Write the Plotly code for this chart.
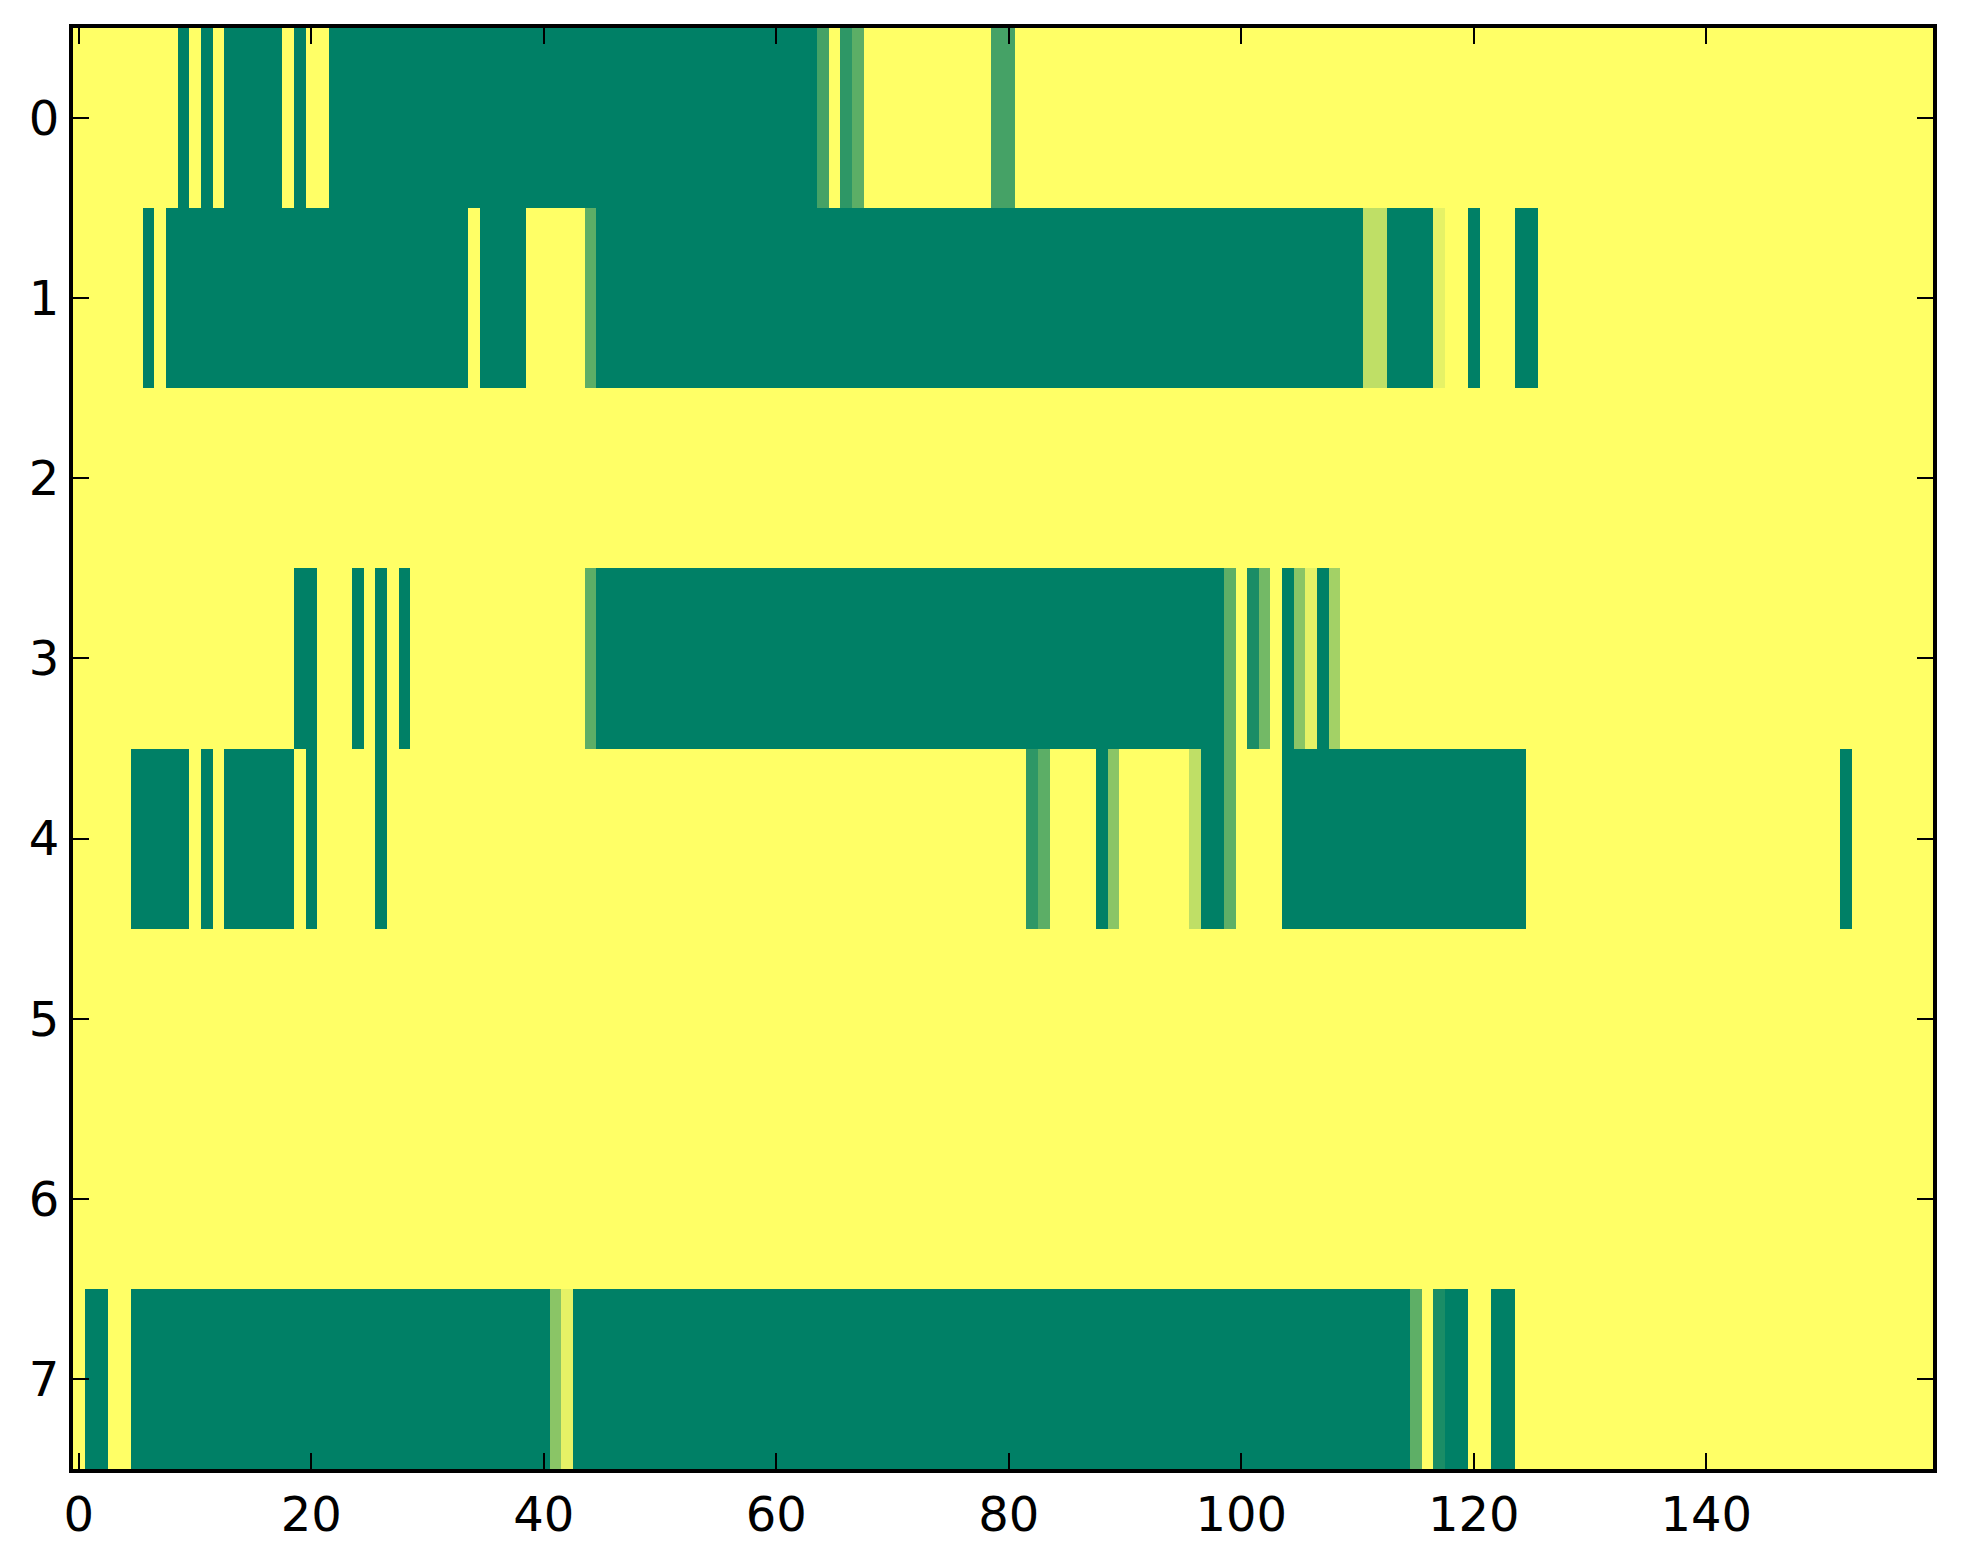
import plotly.graph_objects as go

# Column indices (0..159) and row indices (0..7)
columns = list(range(160))
row_labels = [0, 1, 2, 3, 4, 5, 6, 7]

# Values per row (0 = green end, 1 = yellow end of the "summer" map)
row0 = [1, 1, 1, 1, 1, 1, 1, 1, 1, 0, 1, 0, 1, 0, 0, 0, 0, 0, 1, 0,
        1, 1, 0, 0, 0, 0, 0, 0, 0, 0, 0, 0, 0, 0, 0, 0, 0, 0, 0, 0,
        0, 0, 0, 0, 0, 0, 0, 0, 0, 0, 0, 0, 0, 0, 0, 0, 0, 0, 0, 0,
        0, 0, 0, 0, 0.27, 1, 0.18, 0.36, 1, 1, 1, 1, 1, 1, 1, 1, 1, 1, 1, 0.27,
        0.27, 1, 1, 1, 1, 1, 1, 1, 1, 1, 1, 1, 1, 1, 1, 1, 1, 1, 1, 1,
        1, 1, 1, 1, 1, 1, 1, 1, 1, 1, 1, 1, 1, 1, 1, 1, 1, 1, 1, 1,
        1, 1, 1, 1, 1, 1, 1, 1, 1, 1, 1, 1, 1, 1, 1, 1, 1, 1, 1, 1,
        1, 1, 1, 1, 1, 1, 1, 1, 1, 1, 1, 1, 1, 1, 1, 1, 1, 1, 1, 1]

row1 = [1, 1, 1, 1, 1, 1, 0, 1, 0, 0, 0, 0, 0, 0, 0, 0, 0, 0, 0, 0,
        0, 0, 0, 0, 0, 0, 0, 0, 0, 0, 0, 0, 0, 0, 1, 0, 0, 0, 0, 1,
        1, 1, 1, 1, 0.36, 0, 0, 0, 0, 0, 0, 0, 0, 0, 0, 0, 0, 0, 0, 0,
        0, 0, 0, 0, 0, 0, 0, 0, 0, 0, 0, 0, 0, 0, 0, 0, 0, 0, 0, 0,
        0, 0, 0, 0, 0, 0, 0, 0, 0, 0, 0, 0, 0, 0, 0, 0, 0, 0, 0, 0,
        0, 0, 0, 0, 0, 0, 0, 0, 0, 0, 0, 0.75, 0.75, 0, 0, 0, 0, 0.9, 1, 1,
        0, 1, 1, 1, 0, 0, 1, 1, 1, 1, 1, 1, 1, 1, 1, 1, 1, 1, 1, 1,
        1, 1, 1, 1, 1, 1, 1, 1, 1, 1, 1, 1, 1, 1, 1, 1, 1, 1, 1, 1]

row2 = [1, 1, 1, 1, 1, 1, 1, 1, 1, 1, 1, 1, 1, 1, 1, 1, 1, 1, 1, 1,
        1, 1, 1, 1, 1, 1, 1, 1, 1, 1, 1, 1, 1, 1, 1, 1, 1, 1, 1, 1,
        1, 1, 1, 1, 1, 1, 1, 1, 1, 1, 1, 1, 1, 1, 1, 1, 1, 1, 1, 1,
        1, 1, 1, 1, 1, 1, 1, 1, 1, 1, 1, 1, 1, 1, 1, 1, 1, 1, 1, 1,
        1, 1, 1, 1, 1, 1, 1, 1, 1, 1, 1, 1, 1, 1, 1, 1, 1, 1, 1, 1,
        1, 1, 1, 1, 1, 1, 1, 1, 1, 1, 1, 1, 1, 1, 1, 1, 1, 1, 1, 1,
        1, 1, 1, 1, 1, 1, 1, 1, 1, 1, 1, 1, 1, 1, 1, 1, 1, 1, 1, 1,
        1, 1, 1, 1, 1, 1, 1, 1, 1, 1, 1, 1, 1, 1, 1, 1, 1, 1, 1, 1]

row3 = [1, 1, 1, 1, 1, 1, 1, 1, 1, 1, 1, 1, 1, 1, 1, 1, 1, 1, 1, 0,
        0, 1, 1, 1, 0, 1, 0, 1, 0, 1, 1, 1, 1, 1, 1, 1, 1, 1, 1, 1,
        1, 1, 1, 1, 0.36, 0, 0, 0, 0, 0, 0, 0, 0, 0, 0, 0, 0, 0, 0, 0,
        0, 0, 0, 0, 0, 0, 0, 0, 0, 0, 0, 0, 0, 0, 0, 0, 0, 0, 0, 0,
        0, 0, 0, 0, 0, 0, 0, 0, 0, 0, 0, 0, 0, 0, 0, 0, 0, 0, 0, 0.37,
        1, 0.1, 0.45, 1, 0, 0.54, 0.9, 0, 0.64, 1, 1, 1, 1, 1, 1, 1, 1, 1, 1, 1,
        1, 1, 1, 1, 1, 1, 1, 1, 1, 1, 1, 1, 1, 1, 1, 1, 1, 1, 1, 1,
        1, 1, 1, 1, 1, 1, 1, 1, 1, 1, 1, 1, 1, 1, 1, 1, 1, 1, 1, 1]

row4 = [1, 1, 1, 1, 1, 0, 0, 0, 0, 0, 1, 0, 1, 0, 0, 0, 0, 0, 0, 1,
        0, 1, 1, 1, 1, 1, 0, 1, 1, 1, 1, 1, 1, 1, 1, 1, 1, 1, 1, 1,
        1, 1, 1, 1, 1, 1, 1, 1, 1, 1, 1, 1, 1, 1, 1, 1, 1, 1, 1, 1,
        1, 1, 1, 1, 1, 1, 1, 1, 1, 1, 1, 1, 1, 1, 1, 1, 1, 1, 1, 1,
        1, 1, 0.18, 0.36, 1, 1, 1, 1, 0, 0.54, 1, 1, 1, 1, 1, 1, 0.75, 0, 0, 0.37,
        1, 1, 1, 1, 0, 0, 0, 0, 0, 0, 0, 0, 0, 0, 0, 0, 0, 0, 0, 0,
        0, 0, 0, 0, 0, 1, 1, 1, 1, 1, 1, 1, 1, 1, 1, 1, 1, 1, 1, 1,
        1, 1, 1, 1, 1, 1, 1, 1, 1, 1, 1, 1, 0, 1, 1, 1, 1, 1, 1, 1]

row5 = [1, 1, 1, 1, 1, 1, 1, 1, 1, 1, 1, 1, 1, 1, 1, 1, 1, 1, 1, 1,
        1, 1, 1, 1, 1, 1, 1, 1, 1, 1, 1, 1, 1, 1, 1, 1, 1, 1, 1, 1,
        1, 1, 1, 1, 1, 1, 1, 1, 1, 1, 1, 1, 1, 1, 1, 1, 1, 1, 1, 1,
        1, 1, 1, 1, 1, 1, 1, 1, 1, 1, 1, 1, 1, 1, 1, 1, 1, 1, 1, 1,
        1, 1, 1, 1, 1, 1, 1, 1, 1, 1, 1, 1, 1, 1, 1, 1, 1, 1, 1, 1,
        1, 1, 1, 1, 1, 1, 1, 1, 1, 1, 1, 1, 1, 1, 1, 1, 1, 1, 1, 1,
        1, 1, 1, 1, 1, 1, 1, 1, 1, 1, 1, 1, 1, 1, 1, 1, 1, 1, 1, 1,
        1, 1, 1, 1, 1, 1, 1, 1, 1, 1, 1, 1, 1, 1, 1, 1, 1, 1, 1, 1]

row6 = [1, 1, 1, 1, 1, 1, 1, 1, 1, 1, 1, 1, 1, 1, 1, 1, 1, 1, 1, 1,
        1, 1, 1, 1, 1, 1, 1, 1, 1, 1, 1, 1, 1, 1, 1, 1, 1, 1, 1, 1,
        1, 1, 1, 1, 1, 1, 1, 1, 1, 1, 1, 1, 1, 1, 1, 1, 1, 1, 1, 1,
        1, 1, 1, 1, 1, 1, 1, 1, 1, 1, 1, 1, 1, 1, 1, 1, 1, 1, 1, 1,
        1, 1, 1, 1, 1, 1, 1, 1, 1, 1, 1, 1, 1, 1, 1, 1, 1, 1, 1, 1,
        1, 1, 1, 1, 1, 1, 1, 1, 1, 1, 1, 1, 1, 1, 1, 1, 1, 1, 1, 1,
        1, 1, 1, 1, 1, 1, 1, 1, 1, 1, 1, 1, 1, 1, 1, 1, 1, 1, 1, 1,
        1, 1, 1, 1, 1, 1, 1, 1, 1, 1, 1, 1, 1, 1, 1, 1, 1, 1, 1, 1]

row7 = [1, 0, 0, 1, 1, 0, 0, 0, 0, 0, 0, 0, 0, 0, 0, 0, 0, 0, 0, 0,
        0, 0, 0, 0, 0, 0, 0, 0, 0, 0, 0, 0, 0, 0, 0, 0, 0, 0, 0, 0,
        0, 0.54, 0.9, 0, 0, 0, 0, 0, 0, 0, 0, 0, 0, 0, 0, 0, 0, 0, 0, 0,
        0, 0, 0, 0, 0, 0, 0, 0, 0, 0, 0, 0, 0, 0, 0, 0, 0, 0, 0, 0,
        0, 0, 0, 0, 0, 0, 0, 0, 0, 0, 0, 0, 0, 0, 0, 0, 0, 0, 0, 0,
        0, 0, 0, 0, 0, 0, 0, 0, 0, 0, 0, 0, 0, 0, 0, 0.37, 1, 0.1, 0, 0,
        1, 1, 0, 0, 1, 1, 1, 1, 1, 1, 1, 1, 1, 1, 1, 1, 1, 1, 1, 1,
        1, 1, 1, 1, 1, 1, 1, 1, 1, 1, 1, 1, 1, 1, 1, 1, 1, 1, 1, 1]

x_tick_values = [0, 20, 40, 60, 80, 100, 120, 140]
y_tick_values = [0, 1, 2, 3, 4, 5, 6, 7]

z = [row0, row1, row2, row3, row4, row5, row6, row7]

# matplotlib "summer" colormap: (x, 0.5 + 0.5x, 0.4)
summer = [[0.0, "rgb(0,128,102)"], [1.0, "rgb(255,255,102)"]]

fig = go.Figure(
    go.Heatmap(
        z=z,
        x=columns,
        y=row_labels,
        colorscale=summer,
        zmin=0,
        zmax=1,
        showscale=False,
        zsmooth=False,
    )
)

font = dict(family="DejaVu Sans", size=48, color="black")

fig.update_layout(
    width=1963,
    height=1564,
    margin=dict(l=65, r=38, t=20, b=103, pad=0),
    paper_bgcolor="white",
    plot_bgcolor="white",
    font=font,
    showlegend=False,
)

fig.update_xaxes(
    range=[-0.5, 159.5],
    tickvals=x_tick_values,
    ticktext=[str(v) for v in x_tick_values],
    ticks="inside",
    ticklen=16,
    tickwidth=2,
    tickcolor="black",
    showline=True,
    linewidth=4,
    linecolor="black",
    mirror="ticks",
    showgrid=False,
    zeroline=False,
    tickfont=font,
)

fig.update_yaxes(
    range=[7.5, -0.5],
    tickvals=y_tick_values,
    ticktext=[str(v) for v in y_tick_values],
    ticks="inside",
    ticklen=16,
    tickwidth=2,
    tickcolor="black",
    showline=True,
    linewidth=4,
    linecolor="black",
    mirror="ticks",
    showgrid=False,
    zeroline=False,
    tickfont=font,
)

fig.write_html("out.html")
